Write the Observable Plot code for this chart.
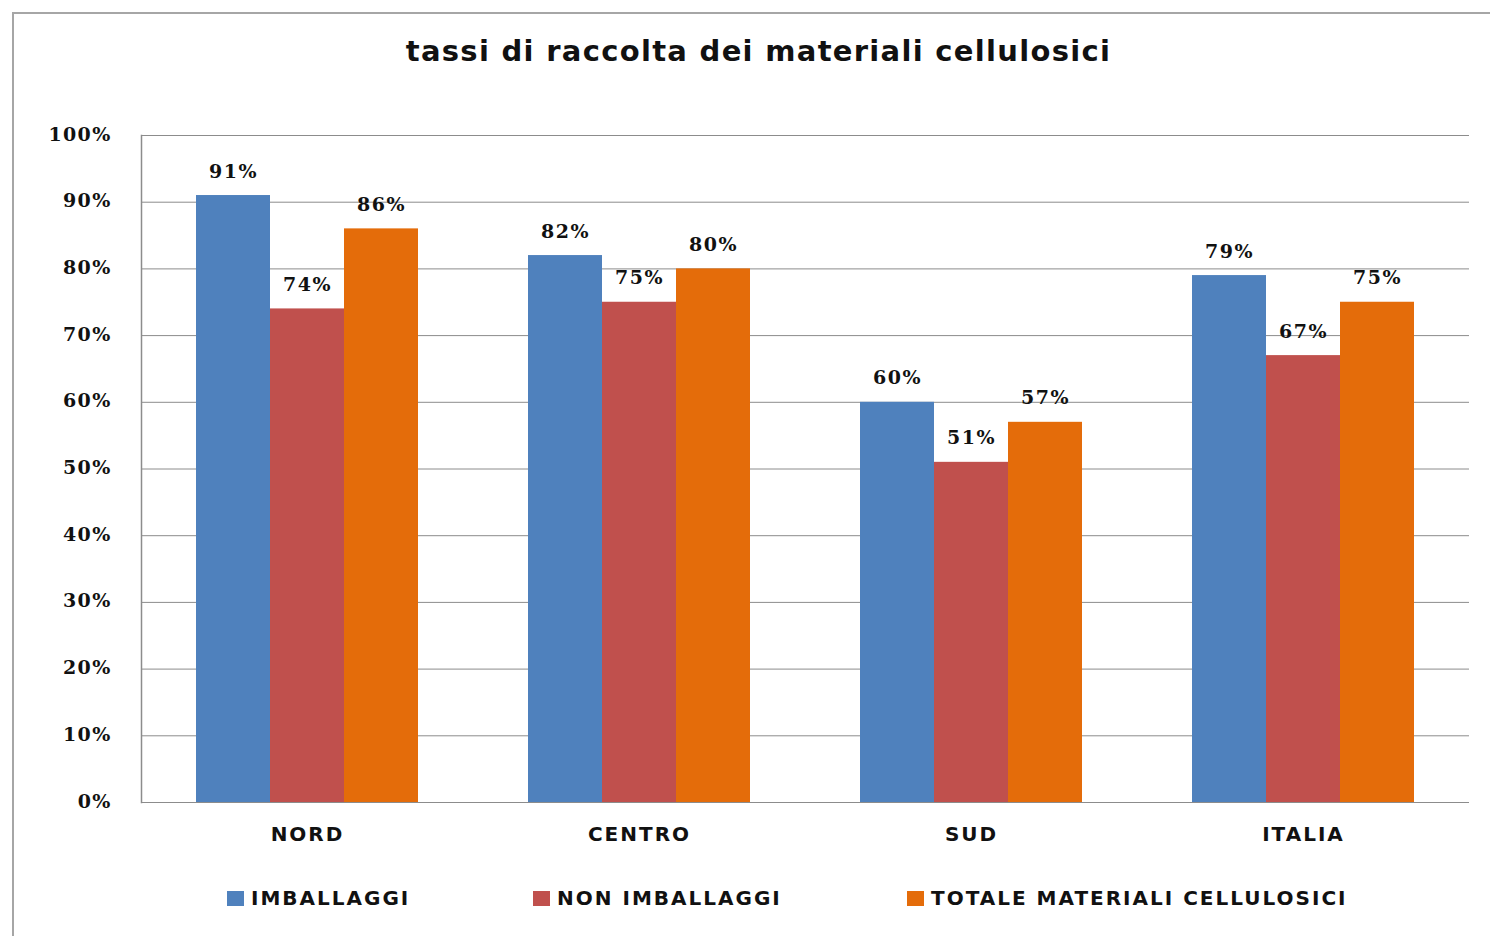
<!DOCTYPE html>
<html>
<head>
<meta charset="utf-8">
<script src="https://cdn.jsdelivr.net/npm/d3@7"></script>
<script src="https://cdn.jsdelivr.net/npm/@observablehq/plot@0.6"></script>
<style>
  html, body { margin: 0; padding: 0; background: #fff; }
  body { width: 1490px; height: 936px; overflow: hidden; position: relative; }
  #border { position: absolute; left: 12px; top: 12px; width: 1500px; height: 1000px;
    border-left: 2px solid #a6a6a6; border-top: 2px solid #a6a6a6; }
  #title { position: absolute; left: 0; top: 34px; width: 1517px; text-align: center;
    font-family: "DejaVu Sans", sans-serif; font-weight: bold; font-size: 29px; line-height: 34px;
    letter-spacing: 1.3px; color: #111; }
  #chart { position: absolute; left: 0; top: 100px; }
  #legend .item { position: absolute; top: 884px; height: 28px; display: flex; align-items: center;
    font-family: "DejaVu Sans", sans-serif; font-weight: bold; font-size: 20px; letter-spacing: 2px; color: #111; }
  #legend .sw { width: 17px; height: 15px; margin-right: 7px; }
  g[aria-label="y-axis tick label"] { letter-spacing: 1.3px; }
  g[aria-label="fx-axis tick label"] { letter-spacing: 2px; }
  g[aria-label="text"] { letter-spacing: 1.5px; }
</style>
</head>
<body>
<div id="border"></div>
<div id="title">tassi di raccolta dei materiali cellulosici</div>
<div id="chart"></div>
<div id="legend"></div>
<script>
const regions = ["NORD", "CENTRO", "SUD", "ITALIA"];
const series = ["IMBALLAGGI", "NON IMBALLAGGI", "TOTALE MATERIALI CELLULOSICI"];
const imballaggi = [91, 82, 60, 79];
const nonImballaggi = [74, 75, 51, 67];
const totale = [86, 80, 57, 75];
const yTicks = [0, 10, 20, 30, 40, 50, 60, 70, 80, 90, 100];
const colors = ["#4F81BD", "#C0504D", "#E46C0A"];
const legendLeft = [227, 533, 907];

const values = [imballaggi, nonImballaggi, totale];
const data = regions.flatMap((r, i) => series.map((s, j) => ({region: r, series: s, value: values[j][i]})));

const gridColor = "#8c8c8c";
const numFont = "DejaVu Serif, serif";

const chart = Plot.plot({
  width: 1490,
  height: 760,
  marginTop: 35,
  marginBottom: 58,
  marginLeft: 140,
  marginRight: 20,
  style: {background: "transparent", color: "#111"},
  fx: {domain: regions, padding: 0, label: null},
  x: {domain: series, paddingInner: 0, paddingOuter: 0.73, axis: null},
  y: {domain: [0, 100], label: null},
  color: {domain: series, range: colors},
  marks: [
    Plot.gridY(yTicks, {stroke: gridColor, strokeOpacity: 1, strokeWidth: 1}),
    Plot.frame({anchor: "left", facetAnchor: "left", stroke: gridColor, strokeWidth: 1.5}),
    Plot.barY(data, {fx: "region", x: "series", y: "value", fill: "series"}),
    Plot.text(data, {fx: "region", x: "series", y: "value", text: d => d.value + "%", dy: -24,
      fontFamily: numFont, fontWeight: "bold", fontSize: 19, fill: "#111"}),
    Plot.axisY(yTicks, {tickSize: 0, tickPadding: 30, tickFormat: d => d + "%", label: null,
      fontFamily: numFont, fontWeight: "bold", fontSize: 19, fill: "#111", dy: -1}),
    Plot.axisFx({anchor: "bottom", tickSize: 0, tickPadding: 24, label: null,
      fontFamily: "DejaVu Sans, sans-serif", fontWeight: "bold", fontSize: 20, fill: "#111"})
  ]
});
document.getElementById("chart").appendChild(chart);

const legend = document.getElementById("legend");
series.forEach((s, i) => {
  const item = document.createElement("div");
  item.className = "item";
  item.style.left = legendLeft[i] + "px";
  const sw = document.createElement("span");
  sw.className = "sw";
  sw.style.background = colors[i];
  const t = document.createElement("span");
  t.textContent = s;
  item.appendChild(sw);
  item.appendChild(t);
  legend.appendChild(item);
});
</script>
</body>
</html>
